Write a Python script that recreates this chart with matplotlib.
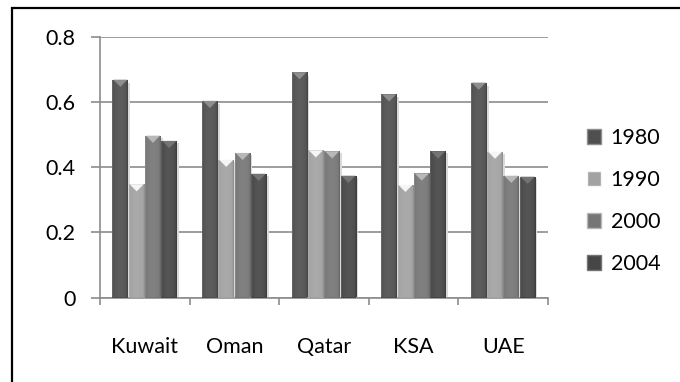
import numpy as np
import matplotlib
matplotlib.use("Agg")
import matplotlib.pyplot as plt
from matplotlib.patches import Polygon, Rectangle, Patch
from matplotlib.colors import to_rgb

countries = ["Kuwait", "Oman", "Qatar", "KSA", "UAE"]
years = ["1980", "1990", "2000", "2004"]
v1980 = [0.669, 0.604, 0.692, 0.624, 0.660]
v1990 = [0.348, 0.423, 0.452, 0.346, 0.448]
v2000 = [0.497, 0.444, 0.449, 0.381, 0.374]
v2004 = [0.481, 0.380, 0.374, 0.449, 0.371]
y_ticks = [0, 0.2, 0.4, 0.6, 0.8]
y_tick_labels = ["0", "0.2", "0.4", "0.6", "0.8"]

series = [v1980, v1990, v2000, v2004]
base_colors = ["#4f4f4f", "#a2a2a2", "#767676", "#464646"]
cap_colors = ["#8e8e8e", "#f5f5f5", "#b8b8b8", "#747474"]

plt.rcParams["font.family"] = ["Lato", "DejaVu Sans"]
FS = 15.5

fig = plt.figure(figsize=(6.8, 3.82), dpi=100)
fig.patch.set_facecolor("white")
ax = fig.add_axes([100 / 680, 1 - 297.5 / 382, 448 / 680, 260.5 / 382])

n = len(countries)
x = np.arange(n)
bar_w = 0.182
offsets = (np.arange(len(years)) - 1.5) * bar_w


def shade(color, f):
    r, g, b = to_rgb(color)
    if f >= 0:
        return (r + (1 - r) * f, g + (1 - g) * f, b + (1 - b) * f)
    return (r * (1 + f), g * (1 + f), b * (1 + f))


# horizontal bevel profile: lighter rim on the left, darker edges, soft middle
prof_x = np.linspace(-1, 1, 64)
prof = 0.08 * (1 - np.abs(prof_x) ** 2) - 0.12 * (np.abs(prof_x) > 0.85)
prof[:4] = 0.15

for si, vals in enumerate(series):
    bars = ax.bar(x + offsets[si], vals, width=bar_w * 0.97,
                  color=base_colors[si], edgecolor="none", zorder=3)
    for b in bars:
        x0, w, h = b.get_x(), b.get_width(), b.get_height()
        # soft shadow to the right
        ax.add_patch(Rectangle((x0 + w, 0), w * 0.12, h * 0.985,
                               color="#dadada", zorder=2, lw=0))
        img = np.array([[shade(base_colors[si], p) for p in prof]])
        im = ax.imshow(img, extent=(x0, x0 + w, 0, h), aspect="auto",
                       zorder=3.5, interpolation="bilinear")
        im.set_clip_path(b)
        # pyramid cap at the top of the bar
        cap_h = 0.022
        tri = Polygon([(x0 + w * 0.05, h), (x0 + w * 0.95, h),
                       (x0 + w / 2, h - cap_h)], closed=True,
                      facecolor=cap_colors[si], edgecolor="none", zorder=4)
        ax.add_patch(tri)

ax.set_xlim(-0.5, n - 0.5)
ax.set_ylim(0, 0.8)
ax.set_yticks(y_ticks)
ax.set_yticklabels(y_tick_labels)
ax.set_xticks(x)
ax.set_xticklabels(countries)
ax.set_xticks(np.arange(n + 1) - 0.5, minor=True)

ax.grid(axis="y", color="#8c8c8c", lw=1.2, zorder=1)
ax.set_axisbelow(True)
for s in ["top", "right"]:
    ax.spines[s].set_visible(False)
for s in ["left", "bottom"]:
    ax.spines[s].set_color("#8c8c8c")
    ax.spines[s].set_linewidth(1.2)

ax.tick_params(axis="y", length=6.5, width=1.2, color="#8c8c8c",
               labelsize=FS, pad=11)
ax.tick_params(axis="x", which="major", length=0, labelsize=FS, pad=28.5)
ax.tick_params(axis="x", which="minor", length=5, width=1.2, color="#8c8c8c")
for t in ax.get_xticklabels() + ax.get_yticklabels():
    t.set_color("black")

handles = [Patch(facecolor=c, edgecolor=cap) for c, cap in zip(base_colors, cap_colors)]
fig.legend(handles, years, loc="center left",
           bbox_to_anchor=(587 / 680, 1 - 201 / 382), frameon=False,
           fontsize=FS, labelspacing=1.02, handlelength=0.65,
           handleheight=0.65, handletextpad=0.45, borderaxespad=0,
           borderpad=0)

# outer chart frame
fig.add_artist(Rectangle((12 / 680, -0.05), 1.0, 1 - 7.5 / 382 + 0.05,
                         transform=fig.transFigure, fill=False,
                         edgecolor="black", lw=1.6, clip_on=False))

fig.savefig("out.png", dpi=100)
